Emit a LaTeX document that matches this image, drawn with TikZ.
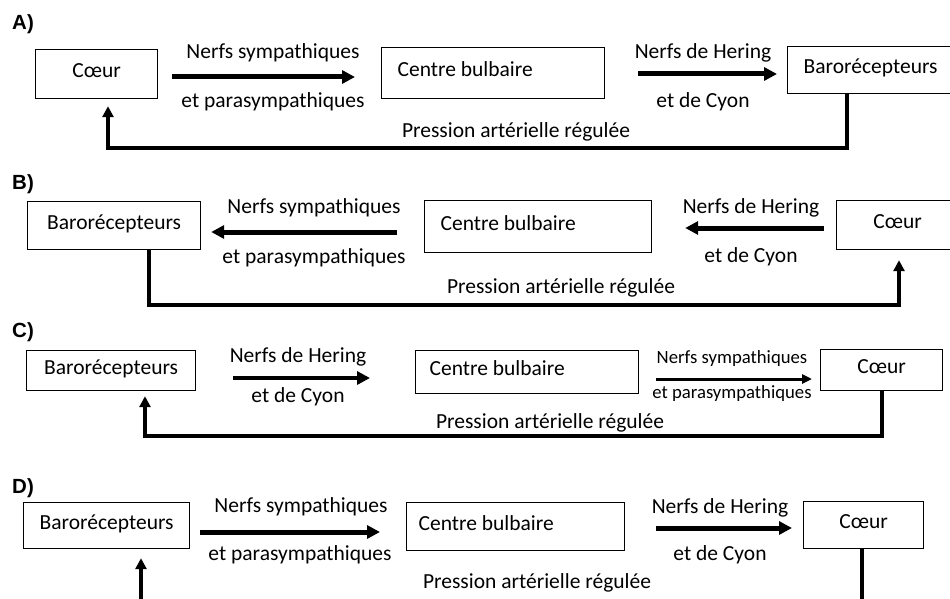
\documentclass[tikz,border=0pt]{standalone}
\usepackage{fontspec}
\setmainfont{Carlito}
\newfontfamily\tagfamily{Liberation Sans}
\usetikzlibrary{arrows.meta}
\newcommand{\fs}{\fontsize{21.5}{24}\selectfont}
\newcommand{\fsmall}{\fontsize{18.7}{21}\selectfont}
\newcommand{\tagfont}{\tagfamily\bfseries\fontsize{20.5}{23}\selectfont}
\newcommand{\lefttext}[2]{\makebox[#1][l]{#2}}
\tikzset{
  box/.style={draw, line width=1.2pt, inner sep=0pt, text height=15pt, text depth=7.5pt, font=\fs, anchor=north west},
  lbl/.style={font=\fs, inner sep=0pt, anchor=base},
  arr/.style={line width=5pt, -{Triangle[length=13pt,width=13pt]}},
  fb/.style={line width=4pt, -{Triangle[length=11pt,width=11pt]}},
  tag/.style={font=\tagfont, anchor=base west, inner sep=0pt}
}
\begin{document}
\begin{tikzpicture}[x=1pt,y=-1pt]
\useasboundingbox (0,0) rectangle (950,599);
\clip (0,0) rectangle (950,599);

% ---------------- A ----------------
\node[tag] (tA) at (12,30) {A)};
\node[box, minimum width=122pt, minimum height=49pt] (a1) at (35,49) {Cœur};
\node[box, minimum width=223pt, minimum height=51pt] (a2) at (381,47) {\lefttext{191pt}{Centre bulbaire}};
\node[box, minimum width=166pt, minimum height=47pt] (a3) at (787,46) {Barorécepteurs};
\draw[arr, shorten <=14pt, shorten >=26pt] (a1.east |- 0,77) -- (a2.west |- 0,77);
\draw[arr, shorten <=33pt, shorten >=10pt] (a2.east |- 0,74) -- (a3.west |- 0,74);
\node[lbl] (a12u) at (273,59) {Nerfs sympathiques};
\node[lbl] (a12d) at (273,108) {et parasympathiques};
\node[lbl] (a23u) at (703,59) {Nerfs de Hering};
\node[lbl] (a23d) at (703,108) {et de Cyon};
\draw[fb, shorten >=7pt] (847,0 |- a3.south) -- (847,148) -- (108,148) -- (108,0 |- a1.south);
\node[lbl] (afb) at (516,138) {Pression artérielle régulée};

% ---------------- B ----------------
\node[tag] (tB) at (12,189) {B)};
\node[box, minimum width=173pt, minimum height=48pt] (b1) at (27,201) {Barorécepteurs};
\node[box, minimum width=227pt, minimum height=52pt] (b2) at (424,200) {\lefttext{195pt}{Centre bulbaire}};
\node[box, minimum width=122pt, minimum height=49pt] (b3) at (836,200) {Cœur};
\draw[arr, shorten <=27pt, shorten >=10pt] (b2.west |- 0,232) -- (b1.east |- 0,232);
\draw[arr, shorten <=12pt, shorten >=33pt] (b3.west |- 0,228) -- (b2.east |- 0,228);
\node[lbl] (b12u) at (314,213) {Nerfs sympathiques};
\node[lbl] (b12d) at (314,263) {et parasympathiques};
\node[lbl] (b23u) at (751,213) {Nerfs de Hering};
\node[lbl] (b23d) at (751,262) {et de Cyon};
\draw[fb, shorten >=10pt] (149,0 |- b1.south) -- (149,305) -- (899,305) -- (899,0 |- b3.south);
\node[lbl] (bfb) at (561,293) {Pression artérielle régulée};

% ---------------- C ----------------
\node[tag] (tC) at (12,337) {C)};
\node[box, minimum width=169pt, minimum height=40pt] (c1) at (26,350) {Barorécepteurs};
\node[box, minimum width=223pt, minimum height=43pt] (c2) at (415,350) {\lefttext{195pt}{Centre bulbaire}};
\node[box, minimum width=122pt, minimum height=41pt] (c3) at (820,349) {Cœur};
\draw[arr, line width=4pt, shorten <=37pt, shorten >=45pt] (c1.east |- 0,378) -- (c2.west |- 0,378);
\draw[line width=3pt, -{Triangle[length=10pt,width=9pt]}, shorten <=17pt, shorten >=8pt] (c2.east |- 0,379) -- (c3.west |- 0,379);
\node[lbl] (c12u) at (298,362) {Nerfs de Hering};
\node[lbl] (c12d) at (298,402) {et de Cyon};
\node[lbl, font=\fsmall] (c23u) at (732,363) {Nerfs sympathiques};
\node[lbl, font=\fsmall] (c23d) at (732,398) {et parasympathiques};
\draw[fb, line width=3.5pt, shorten >=5pt] (882,0 |- c3.south) -- (882,436) -- (145,436) -- (145,0 |- c1.south);
\node[lbl] (cfb) at (550,428) {Pression artérielle régulée};

% ---------------- D ----------------
\node[tag] (tD) at (12,493) {D)};
\node[box, minimum width=166pt, minimum height=46pt] (d1) at (23,502) {Barorécepteurs};
\node[box, minimum width=218pt, minimum height=48pt] (d2) at (406,502) {\lefttext{194pt}{Centre bulbaire}};
\node[box, minimum width=120pt, minimum height=47pt] (d3) at (803,501) {Cœur};
\draw[arr, shorten <=10pt, shorten >=26pt] (d1.east |- 0,532) -- (d2.west |- 0,532);
\draw[arr, shorten <=31pt, shorten >=11pt] (d2.east |- 0,528) -- (d3.west |- 0,528);
\node[lbl] (d12u) at (301,512) {Nerfs sympathiques};
\node[lbl] (d12d) at (300,560) {et parasympathiques};
\node[lbl] (d23u) at (720,513) {Nerfs de Hering};
\node[lbl] (d23d) at (720,560) {et de Cyon};
\draw[fb, shorten >=9pt] (862,0 |- d3.south) -- (862,600.5) -- (141,600.5) -- (141,0 |- d1.south);
\node[lbl] (dfb) at (537,588) {Pression artérielle régulée};
\end{tikzpicture}
\end{document}
